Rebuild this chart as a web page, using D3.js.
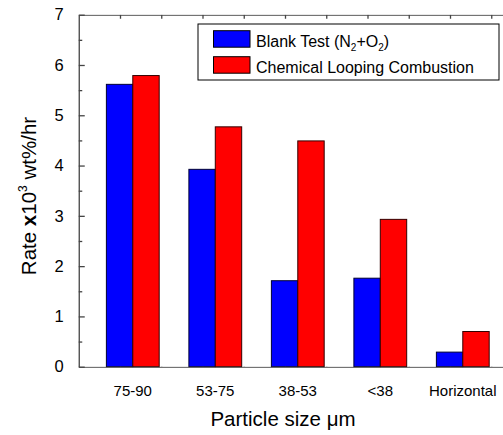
<!DOCTYPE html>
<html>
<head>
<meta charset="utf-8">
<script src="https://cdn.jsdelivr.net/npm/d3@7"></script>
<style>
  html, body { margin: 0; padding: 0; background: #fff; }
  svg { display: block; font-family: "Liberation Sans", Arial, sans-serif; }
</style>
</head>
<body>
<svg id="chart" width="503" height="435"></svg>
<script>
// Particle size classes and measured rates (x10^3 wt%/hr)
const categories = ["75-90", "53-75", "38-53", "<38", "Horizontal"];
const blankTest = [5.615, 3.925, 1.71, 1.76, 0.29];
const clc = [5.79, 4.77, 4.49, 2.93, 0.70];
const seriesNames = ["Blank Test (N2+O2)", "Chemical Looping Combustion"];
const seriesColors = ["#0000ff", "#ff0000"];
const yTicks = [0, 1, 2, 3, 4, 5, 6, 7];

const svg = d3.select("#chart");
const W = 503, H = 435;

// Plot frame: continuous x axis (one unit per group), runs past the right edge
const x = d3.scaleLinear().domain([0, 5.5]).range([78.75, 78.75 + 5.5 * 82.5]);
const y = d3.scaleLinear().domain([0, 7]).range([366.7, 14.7]);
const groupOffset = 0.655;
const barW = 0.32;

const axisColor = "#444";

// Bars
const groups = svg.append("g");
categories.forEach((c, i) => {
  const cx = groupOffset + i;
  [blankTest[i], clc[i]].forEach((v, s) => {
    const x0 = s === 0 ? x(cx - barW) : x(cx);
    const x1 = s === 0 ? x(cx) : x(cx + barW);
    groups.append("rect")
      .attr("x", x0).attr("y", y(v))
      .attr("width", x1 - x0).attr("height", y(0) - y(v))
      .attr("fill", seriesColors[s])
      .attr("stroke", s === 0 ? "#000033" : "#330000")
      .attr("stroke-width", 1);
  });
});

// Minor x ticks on bottom and top edges
const xTickVals = d3.range(0.5, 5.51, 0.5);
svg.append("clipPath").attr("id", "clipW")
  .append("rect").attr("x", 0).attr("y", 0).attr("width", W).attr("height", H);

const bottomAxis = svg.append("g")
  .attr("transform", `translate(0,${y(0)})`)
  .attr("clip-path", "url(#clipW)")
  .call(d3.axisBottom(x).tickValues(xTickVals).tickSizeInner(-4).tickSizeOuter(0).tickFormat(""));
const topAxis = svg.append("g")
  .attr("transform", `translate(0,${y(7)})`)
  .attr("clip-path", "url(#clipW)")
  .call(d3.axisTop(x).tickValues(xTickVals).tickSizeInner(-4).tickSizeOuter(0).tickFormat(""));

// Y axis with inward major and minor ticks
const leftAxis = svg.append("g")
  .attr("transform", `translate(${x(0)},0)`)
  .call(d3.axisLeft(y).tickValues(yTicks).tickSizeInner(-6).tickSizeOuter(0).tickPadding(15).tickFormat(d3.format("d")));
const leftMinor = svg.append("g")
  .attr("transform", `translate(${x(0)},0)`)
  .call(d3.axisLeft(y).tickValues(d3.range(0.5, 7, 1)).tickSizeInner(-3.5).tickSizeOuter(0).tickFormat(""));
leftMinor.select(".domain").remove();

[bottomAxis, topAxis, leftAxis, leftMinor].forEach(g => {
  g.selectAll("path, line").attr("stroke", axisColor).attr("stroke-width", 1.3);
});
leftAxis.selectAll("text").attr("font-size", 16.5).attr("fill", "#000")
  .attr("font-family", "Liberation Sans, Arial, sans-serif");

// Category labels under each group
svg.append("g").selectAll("text").data(categories).join("text")
  .attr("x", (d, i) => x(groupOffset + i))
  .attr("y", 395.5)
  .attr("text-anchor", "middle")
  .attr("font-size", 15)
  .text(d => d);

// Axis titles
const xt = svg.append("text")
  .attr("x", 283).attr("y", 426)
  .attr("text-anchor", "middle")
  .attr("font-size", 20.5);
xt.append("tspan").text("Particle size ");
xt.append("tspan").text("\u03bcm");

const yt = svg.append("text")
  .attr("transform", "translate(36,196) rotate(-90)")
  .attr("text-anchor", "middle")
  .attr("font-size", 20.5);
yt.append("tspan").text("Rate ");
yt.append("tspan").attr("font-weight", "bold").text("x");
yt.append("tspan").text("10");
yt.append("tspan").attr("font-size", 12).attr("dy", -9).text("3");
yt.append("tspan").attr("dy", 9).text(" wt%/hr");

// Legend
const lg = svg.append("g");
lg.append("rect").attr("x", 198).attr("y", 24).attr("width", 301).attr("height", 56)
  .attr("fill", "#fff").attr("stroke", "#000").attr("stroke-width", 1);
[0, 1].forEach(s => {
  const yy = [30.7, 56.7][s];
  lg.append("rect").attr("x", 213.5).attr("y", yy).attr("width", 36.5).attr("height", 16.5)
    .attr("fill", seriesColors[s]).attr("stroke", "#000").attr("stroke-width", 1);
});
const l1 = lg.append("text").attr("x", 256).attr("y", 46.5).attr("font-size", 16);
l1.append("tspan").text("Blank Test (N");
l1.append("tspan").attr("font-size", 10).attr("dy", 4).text("2");
l1.append("tspan").attr("dy", -4).text("+O");
l1.append("tspan").attr("font-size", 10).attr("dy", 4).text("2");
l1.append("tspan").attr("dy", -4).text(")");
lg.append("text").attr("x", 256).attr("y", 72.5).attr("font-size", 16).text(seriesNames[1]);
</script>
</body>
</html>
